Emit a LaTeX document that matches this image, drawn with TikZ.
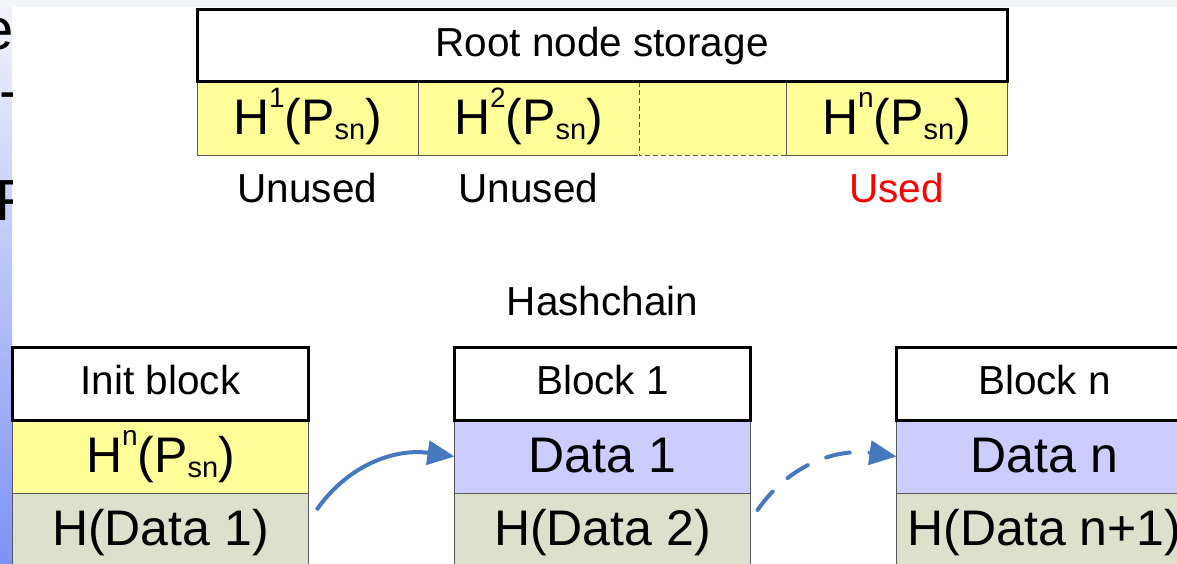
\documentclass[tikz,border=0pt]{standalone}
\usepackage{fontspec}
\setmainfont{Liberation Sans}
\usetikzlibrary{positioning,arrows.meta}

\definecolor{cellyel}{RGB}{255,255,153}
\definecolor{celllav}{RGB}{204,204,255}
\definecolor{cellgrn}{RGB}{221,224,203}
\definecolor{arrblue}{RGB}{70,120,192}
\definecolor{bandtop}{RGB}{244,244,251}
\definecolor{stripmid}{RGB}{226,230,252}
\definecolor{stripbot}{RGB}{125,146,246}

\newcommand{\sups}[1]{\raisebox{27pt}{\fontsize{28}{28}\selectfont #1}}
\newcommand{\subs}[1]{\raisebox{-5pt}{\fontsize{29}{29}\selectfont #1}}
\newcommand{\hpow}[1]{H\sups{#1}(P\subs{sn})}

\begin{document}
\begin{tikzpicture}[x=1pt, y=1pt,
  hdr/.style={rectangle, draw, line width=3pt, fill=white, outer sep=0pt, inner sep=0pt, minimum height=72pt, font=\fontsize{40.5}{44}\selectfont, text height=29pt, text depth=7pt},
  cell/.style={rectangle, draw=black!65, line width=1pt, outer sep=0pt, inner sep=0pt, minimum height=74pt, font=\fontsize{50}{55}\selectfont, text height=37pt, text depth=5pt},
  blockcell/.style={cell, minimum width=296pt, minimum height=73pt},
  blockhdr/.style={hdr, minimum width=296pt, minimum height=73pt},
  lbl/.style={inner sep=0pt, font=\fontsize{40.5}{44}\selectfont, anchor=base},
  frag/.style={inner sep=0pt, font=\fontsize{58}{60}\selectfont},
  flow/.style={draw=arrblue, line width=4pt, -{Triangle[length=27pt, width=24pt]}}]

  % slide behind the picture
  \useasboundingbox (0,0) rectangle (1177,-564);
  \clip (0,0) rectangle (1177,-564);
  \fill[white] (0,0) rectangle (1177,-564);
  \shade[top color=bandtop, middle color=stripmid, bottom color=stripbot] (0,0) rectangle (12,-564);
  \begin{scope}
    \clip (0,0) rectangle (12,-564);
    \node[frag, anchor=base east] (frage) at (13.5,-50) {e};
    \node[frag, anchor=base west] (fragdash) at (-1,-111) {-};
    \node[frag, anchor=base west] (fragf) at (-4.5,-220) {F};
  \end{scope}
  \fill[bandtop] (0,0) rectangle (1177,-7);

  % root node storage
  \node[cell, fill=cellyel, minimum width=221pt] (h1) at (307.5,-119) {\hpow{1}};
  \node[cell, fill=cellyel, minimum width=221pt, right=0pt of h1] (h2) {\hpow{2}};
  \node[cell, fill=cellyel, draw=none, minimum width=147pt, right=0pt of h2] (hdots) {};
  \node[cell, fill=cellyel, minimum width=221pt, right=0pt of hdots] (hn) {\hpow{n}};
  \draw[cellyel, line width=1.6pt] (hdots.north west) -- (hdots.south west);
  \draw[black!65, line width=1pt, dash pattern=on 5pt off 3pt] (hdots.north west) -- (hdots.south west) -- ([xshift=6pt]hdots.south east);
  \node[hdr, minimum width=810pt, above right=0pt of h1.north west] (root) {Root node storage};

  \node[lbl] (unused1) at ([yshift=-47pt]h1.south) {Unused};
  \node[lbl] (unused2) at ([yshift=-47pt]h2.south) {Unused};
  \node[lbl, text=red] (used) at ([yshift=-47pt]hn.south) {Used};

  % hashchain blocks
  \node[blockcell, fill=cellyel] (i2) at (160.5,-456.5) {\hpow{n}};
  \node[blockcell, fill=cellgrn, below=0pt of i2] (i3) {H(Data 1)};
  \node[blockhdr, above=0pt of i2] (i1) {Init block};

  \node[blockcell, fill=celllav, right=146pt of i2] (b2) {Data 1};
  \node[blockcell, fill=cellgrn, below=0pt of b2] (b3) {H(Data 2)};
  \node[blockhdr, above=0pt of b2] (b1) {Block 1};

  \node[blockcell, fill=celllav, right=146pt of b2] (bn2) {Data n};
  \node[blockcell, fill=cellgrn, below=0pt of bn2] (bn3) {H(Data n+1)};
  \node[blockhdr, above=0pt of bn2] (bn1) {Block n};

  \node[lbl] (hashchain) at ([yshift=32pt]b1.north) {Hashchain};

  \coordinate (a1) at ([xshift=8pt, yshift=-17pt]i3.north east);
  \coordinate (a2) at ([xshift=7pt, yshift=-17pt]b3.north east);
  \draw[flow] (a1) to[out=55, in=172] (b2.west);
  \draw[flow, dash pattern=on 24pt off 20pt, line cap=round] (a2) to[out=55, in=172] (bn2.west);
\end{tikzpicture}
\end{document}
